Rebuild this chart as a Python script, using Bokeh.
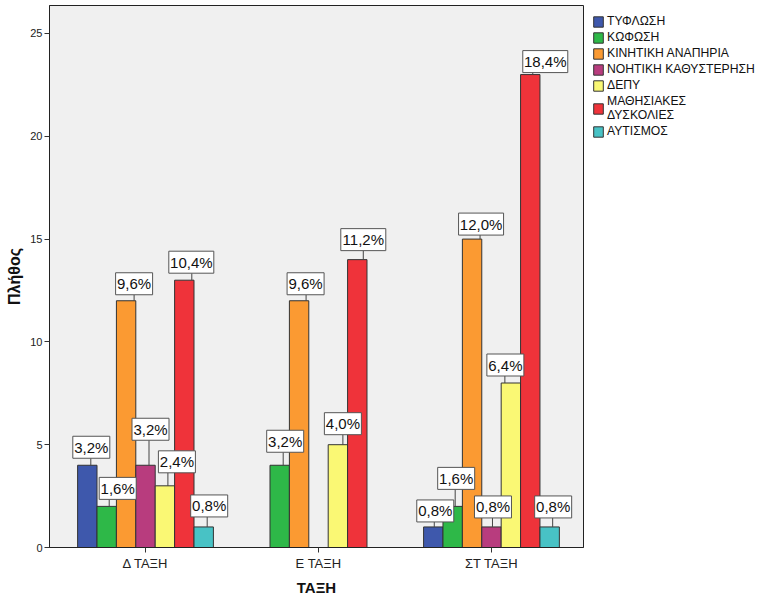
from bokeh.plotting import figure
from bokeh.models import ColumnDataSource, FixedTicker, Legend, LegendItem, Range1d
from bokeh.embed import file_html
from bokeh.resources import INLINE
from bokeh.core.properties import value

# ---------------- data ----------------
classes = ["Δ ΤΑΞΗ", "Ε ΤΑΞΗ", "ΣΤ ΤΑΞΗ"]
disabilities = ["ΤΥΦΛΩΣΗ", "ΚΩΦΩΣΗ", "ΚΙΝΗΤΙΚΗ ΑΝΑΠΗΡΙΑ", "ΝΟΗΤΙΚΗ ΚΑΘΥΣΤΕΡΗΣΗ",
                "ΔΕΠΥ", "ΜΑΘΗΣΙΑΚΕΣ\nΔΥΣΚΟΛΙΕΣ", "ΑΥΤΙΣΜΟΣ"]
tyflosi = [4, 0, 1]
kofosi = [2, 4, 2]
kinitiki = [12, 12, 15]
noitiki = [4, 0, 1]
depy = [3, 5, 8]
mathisiakes = [13, 14, 23]
autismos = [1, 0, 1]
series = [tyflosi, kofosi, kinitiki, noitiki, depy, mathisiakes, autismos]
y_ticks = [0, 5, 10, 15, 20, 25]

colors = ["#3E58AC", "#2EB848", "#FB9A32", "#B83C7E", "#FAF874", "#EF333A", "#48C2C5"]

# label placement (pixels): box dx from bar centre, gap above bar, leader dx
label_place = {
    (0, 0): (4, 7, 3.5), (0, 1): (11, 7, 2.5), (0, 2): (8, 6, 8), (0, 3): (5, 25, 3.5),
    (0, 4): (12, 13, 3), (0, 5): (7, 7, 7.5), (0, 6): (5.5, 10, 3.5),
    (1, 1): (5.5, 13, 3.5), (1, 2): (6.5, 6, 7), (1, 4): (5, 10, 5), (1, 5): (6, 9, 6),
    (2, 0): (2, 5, 1), (2, 1): (3.5, 17, 2.5), (2, 2): (9, 4, 8), (2, 3): (1.5, 9, 1),
    (2, 4): (-5.5, 7, -6), (2, 5): (15, 2, 2.5), (2, 6): (3.5, 9, 3),
}

# ---------------- geometry ----------------
FW, FH = 534, 542
X0, X1 = -0.555, 2.532
Y0, Y1 = 0, 26.36
ppx = FW / (X1 - X0)
ppy = FH / (Y1 - Y0)
bar_w = 19.4 / 173.0

total = sum(sum(s) for s in series)

p = figure(frame_width=FW, frame_height=FH, x_range=Range1d(X0, X1), y_range=Range1d(Y0, Y1),
           output_backend="svg", toolbar_location=None,
           min_border_top=5, min_border_left=49, min_border_right=0, min_border_bottom=0)
p.background_fill_color = "#F0F0F0"
p.border_fill_color = "white"
p.outline_line_color = "#222222"
p.outline_line_width = 1
p.xgrid.visible = False
p.ygrid.visible = False

FONT = "Liberation Sans"

legend_items = []
for si, vals in enumerate(series):
    off = (si - 3) * bar_w
    xs = [ci + off for ci, v in enumerate(vals) if v > 0]
    tops = [v for v in vals if v > 0]
    src = ColumnDataSource(dict(x=xs, top=tops))
    r = p.vbar(x="x", top="top", width=bar_w, bottom=0, source=src,
               fill_color=colors[si], line_color="#333333", line_width=1)
    legend_items.append(LegendItem(label=disabilities[si], renderers=[r]))

# labels
bx, by, bw, lxs, ly0, ly1, txt = [], [], [], [], [], [], []
for ci in range(len(classes)):
    for si, vals in enumerate(series):
        v = vals[ci]
        if v <= 0:
            continue
        cx = ci + (si - 3) * bar_w
        dx, gap, dxl = label_place[(ci, si)]
        s = ("%.1f%%" % (100.0 * v / total)).replace(".", ",")
        txt.append(s)
        bx.append(cx + dx / ppx)
        by.append(v + (gap + 11) / ppy)
        bw.append(8 * len(s) + 5)
        lxs.append(cx + dxl / ppx)
        ly0.append(v)
        ly1.append(v + gap / ppy)

lsrc = ColumnDataSource(dict(bx=bx, by=by, bw=bw, lx=lxs, ly0=ly0, ly1=ly1, txt=txt))
p.segment(x0="lx", y0="ly0", x1="lx", y1="ly1", source=lsrc, line_color="#444444", line_width=1)
p.rect(x="bx", y="by", width="bw", height=22, width_units="screen", height_units="screen",
       source=lsrc, fill_color="white", line_color="#555555", line_width=1)
p.text(x="bx", y="by", text="txt", source=lsrc, text_align="center", text_baseline="middle",
       text_font=value(FONT), text_font_size="15px", text_color="#111111")

# axes
p.xaxis.ticker = FixedTicker(ticks=list(range(len(classes))))
p.xaxis.major_label_overrides = {i: c for i, c in enumerate(classes)}
p.xaxis.axis_label = "ΤΑΞΗ"
p.yaxis.ticker = FixedTicker(ticks=y_ticks)
p.yaxis.axis_label = "Πλήθος"
for ax in (p.xaxis[0], p.yaxis[0]):
    ax.minor_tick_line_color = None
    ax.major_tick_in = 0
    ax.major_tick_out = 5
    ax.major_tick_line_color = "#333333"
    ax.axis_line_color = "#222222"
    ax.major_label_text_font = FONT
    ax.major_label_text_color = "#222222"
    ax.axis_label_text_font = FONT
    ax.axis_label_text_font_style = "bold"
    ax.axis_label_text_color = "#111111"
p.xaxis.major_label_text_font_size = "13px"
p.yaxis.major_label_text_font_size = "11px"
p.xaxis.major_label_standoff = 3
p.yaxis.major_label_standoff = 2
p.xaxis.axis_label_text_font_size = "15px"
p.yaxis.axis_label_text_font_size = "16px"
p.xaxis.axis_label_standoff = 5
p.yaxis.axis_label_standoff = 4

legend = Legend(items=legend_items, location="top_left", orientation="vertical",
                margin=9, padding=2, spacing=2, glyph_width=12, glyph_height=13,
                label_standoff=3, label_height=14, label_text_font=FONT,
                label_text_font_size="12.2px", label_text_color="#111111",
                label_text_line_height=1.1,
                border_line_color=None, background_fill_alpha=0)
p.add_layout(legend, "right")

open("out.html", "w").write(file_html(p, INLINE))
